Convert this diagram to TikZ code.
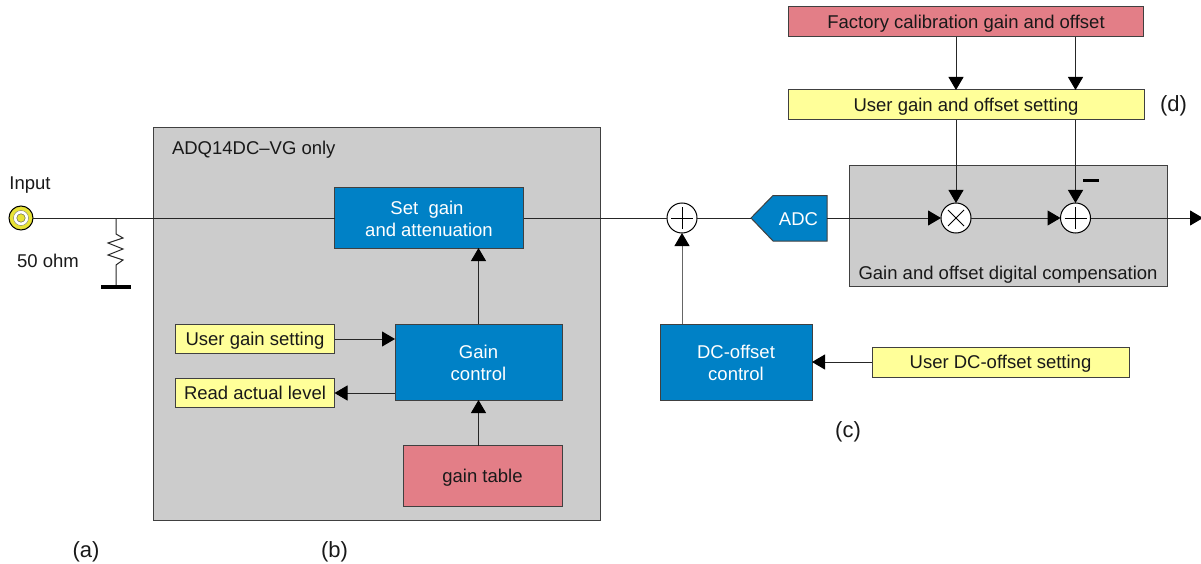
\documentclass[tikz,border=0pt]{standalone}
\usepackage{fontspec}
\setmainfont{Liberation Sans}
\usetikzlibrary{arrows.meta}
\definecolor{panel}{HTML}{CCCCCC}
\definecolor{bluebox}{HTML}{0081C6}
\definecolor{yellowbox}{HTML}{FFFF99}
\definecolor{redbox}{HTML}{E37E87}
\definecolor{coax}{HTML}{E8E337}
\newcommand{\dnone}[1]{\raisebox{-1pt}[\height][\depth]{#1}}
\newcommand{\dntwo}[1]{\raisebox{-2pt}[\height][\depth]{#1}}
\tikzset{
  x=1pt,y=-1pt,
  every node/.style={font=\fontsize{18.5}{22}\selectfont,inner sep=0pt,outer sep=0pt,align=center,text=black!90},
  sized/.style 2 args={minimum width=#1pt,minimum height=#2pt},
  panelbox/.style={draw=black!75,line width=1pt,fill=panel},
  bluenode/.style={draw=black!75,line width=1pt,fill=bluebox,text=white},
  yellownode/.style={draw=black!75,line width=1pt,fill=yellowbox},
  rednode/.style={draw=black!75,line width=1pt,fill=redbox},
  wire/.style={draw=black!85,line width=1pt},
  arrow/.style={wire,-{Triangle[length=13pt,width=15pt,color=black,fill=black]}},
  sumnode/.style={circle,draw=black,line width=1pt,fill=white,minimum size=30pt},
  sign/.style={draw=black,line width=1pt},
  tag/.style={font=\fontsize{22}{26}\selectfont},
}
\begin{document}
\begin{tikzpicture}
\useasboundingbox (0,0) rectangle (1201,564);
% panels
\node[panelbox,sized={447}{393}] (vgpanel) at (376.5,324) {};
\node[anchor=west] (vglabel) at (172,149.5) {ADQ14DC–VG only};
\node[panelbox,sized={318}{121}] (comppanel) at (1008,226) {};
\node[anchor=center] (complabel) at (1008,274.5) {Gain and offset digital compensation};
% blue boxes
\node[bluenode,sized={189}{60}] (setgain) at (429,218) {\dnone{\hspace*{-4pt}Set\ \ gain}\\\dnone{and attenuation}};
\node[bluenode,sized={167}{76}] (gainctl) at (478.5,362) {\dnone{Gain}\\\dnone{control}};
\node[bluenode,sized={152}{76}] (dcctl) at (736,362) {\dnone{DC-offset}\\\dnone{control}};
% yellow boxes
\node[yellownode,sized={159}{29}] (usergain) at (255,339) {\dntwo{User gain setting}};
\node[yellownode,sized={159}{29}] (readlevel) at (255,393) {Read actual level};
\node[yellownode,sized={257}{30}] (userdc) at (1000.5,362) {\dntwo{User DC-offset setting}};
\node[yellownode,sized={356}{30}] (usergo) at (966,105) {\dntwo{User gain and offset setting}};
% red boxes
\node[rednode,sized={355}{30}] (factory) at (966,22) {\dntwo{Factory calibration gain and offset}};
\node[rednode,sized={159}{61}] (gaintable) at (482.5,476) {\dntwo{gain table}};
% summing nodes
\node[sumnode] (sumA) at (682,218) {};
\node[sumnode] (mulB) at (956,218) {};
\node[sumnode] (sumC) at (1075.5,218) {};
\draw[sign] (sumA.center)+(-11,0) -- +(11,0) (sumA.center)+(0,-11) -- +(0,11);
\draw[sign] (sumC.center)+(-11,0) -- +(11,0) (sumC.center)+(0,-11) -- +(0,11);
\draw[sign] (mulB.center)+(-8,-8) -- +(8,8) (mulB.center)+(-8,8) -- +(8,-8);
% ADC
\coordinate (adctip) at (751,218);
\coordinate (adcout) at (827,218);
\path[draw=black!75,line width=1pt,fill=bluebox] (adctip) -- (773,195.5) -- (827,195.5) -- (827,241) -- (773,241) -- cycle;
\node[text=white] (adclabel) at (798.5,219) {ADC};
% input
\node[circle,draw=black,line width=1pt,fill=coax,minimum size=24pt] (coaxout) at (21,218) {};
\node[circle,draw=black!60,line width=.3pt,fill=white,minimum size=15pt] (coaxmid) at (21,218) {};
\node[circle,fill=coax,draw=black!70,line width=.4pt,minimum size=8.5pt] (coaxin) at (21,218) {};
\node (inputlabel) at (30,185.5) {Input};
\node (ohmlabel) at (48,261) {50 ohm};
% resistor
\coordinate (junction) at (116,218);
\coordinate (rtop) at (116,234);
\coordinate (rbot) at (116,265);
\coordinate (gnd) at (116,285);
\draw[wire] (junction) -- (rtop) -- (123,238) -- (108,243) -- (123,249) -- (108,255) -- (123,260) -- (rbot) -- (gnd);
\draw[black,line width=4pt] (101,286.5) -- (131,286.5);
% wires
\draw[wire] (coaxout) -- (setgain);
\draw[wire] (setgain) -- (sumA);
\draw[wire] (sumA) -- (adctip);
\draw[arrow] (adcout) -- (mulB);
\draw[arrow] (mulB) -- (sumC);
\coordinate (outend) at (1203,218);
\draw[arrow] (sumC) -- (outend);
\draw[arrow,draw=black!60] (dcctl.north -| sumA) -- (sumA);
\draw[arrow] (userdc) -- (dcctl);
\draw[arrow] (gainctl.north) -- (gainctl.north |- setgain.south);
\draw[arrow] (usergain) -- (gainctl.west |- usergain);
\draw[arrow] (gainctl.west |- readlevel) -- (readlevel);
\draw[arrow] (gaintable.north -| gainctl) -- (gainctl.south);
\draw[arrow] (factory.south -| mulB) -- (usergo.north -| mulB);
\draw[arrow] (factory.south -| sumC) -- (usergo.north -| sumC);
\draw[arrow] (usergo.south -| mulB) -- (mulB);
\draw[arrow] (usergo.south -| sumC) -- (sumC);
\coordinate (minusl) at (1083,180.5);
\coordinate (minusr) at (1099,180.5);
\draw[black,line width=2.5pt] (minusl) -- (minusr);
% tags
\node[tag] (taga) at (86,551.5) {(a)};
\node[tag] (tagb) at (334.5,551.5) {(b)};
\node[tag] (tagc) at (848,431.5) {(c)};
\node[tag] (tagd) at (1173.5,105.5) {(d)};
\end{tikzpicture}
\end{document}
